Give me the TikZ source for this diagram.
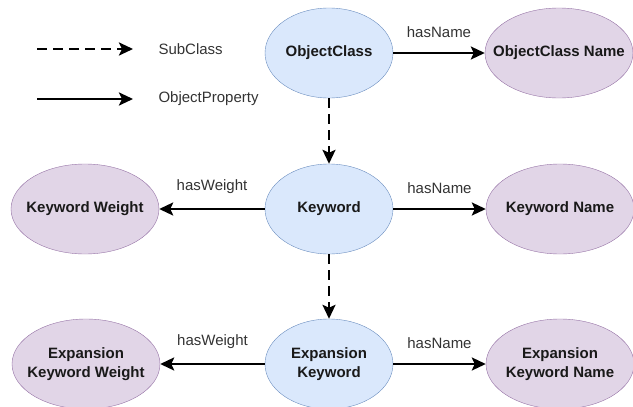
\documentclass[tikz,border=0pt]{standalone}
\usepackage{fontspec}
\setmainfont{Liberation Sans}
\usetikzlibrary{shapes.geometric,arrows.meta}
\definecolor{clsfill}{HTML}{DAE8FC}
\definecolor{clsline}{HTML}{6C8EBF}
\definecolor{attrfill}{HTML}{E1D5E7}
\definecolor{attrline}{HTML}{9673A6}
\tikzset{
    cls/.style={ellipse,draw=clsline,fill=clsfill,minimum width=128pt,minimum height=90pt,
        inner ysep=0pt,inner xsep=-12pt,align=center,font=\fontsize{15}{19}\selectfont\bfseries,text=black!90},
    attr/.style={cls,draw=attrline,fill=attrfill,minimum width=148pt,inner xsep=-22pt},
    prop/.style={line width=2.5pt,-{Stealth[length=14pt,width=13pt,inset=3pt]}},
    sub/.style={prop,dash pattern=on 10pt off 6pt},
    lbl/.style={font=\fontsize{15}{18}\selectfont,text=black!80},
    rel/.style={lbl,midway,above=11pt}
}
\begin{document}
\begin{tikzpicture}[x=1pt,y=-1pt]
    \useasboundingbox (0,0) rectangle (633,407);
    % legend
    \coordinate (sa) at (37,49);
    \coordinate (sb) at (133,49);
    \coordinate (pa) at (37,99);
    \coordinate (pb) at (133,99);
    \draw[sub] (sa) -- (sb);
    \draw[prop] (pa) -- (pb);
    \node[lbl,anchor=west] (subtxt) at (155,49) {SubClass};
    \node[lbl,anchor=west] (proptxt) at (155,99) {ObjectProperty};
    % classes
    \node[cls] (oc) at (329,53) {ObjectClass};
    \node[cls] (kw) at (329,209) {Keyword};
    \node[cls] (ek) at (329,364) {Expansion\\Keyword};
    % attributes
    \node[attr] (ocn) at (559,53) {ObjectClass Name};
    \node[attr] (kww) at (85,209) {Keyword Weight};
    \node[attr] (kwn) at (560,209) {Keyword Name};
    \node[attr] (ekw) at (86,364) {Expansion\\Keyword Weight};
    \node[attr] (ekn) at (560,364) {Expansion\\Keyword Name};
    % relations
    \draw[sub] (oc) -- (kw);
    \draw[sub] (kw) -- (ek);
    \draw[prop] (oc) -- (ocn) node[rel] {hasName};
    \draw[prop] (kw) -- (kwn) node[rel] {hasName};
    \draw[prop] (kw) -- (kww) node[rel] {hasWeight};
    \draw[prop] (ek) -- (ekn) node[rel] {hasName};
    \draw[prop] (ek) -- (ekw) node[rel] {hasWeight};
\end{tikzpicture}
\end{document}
